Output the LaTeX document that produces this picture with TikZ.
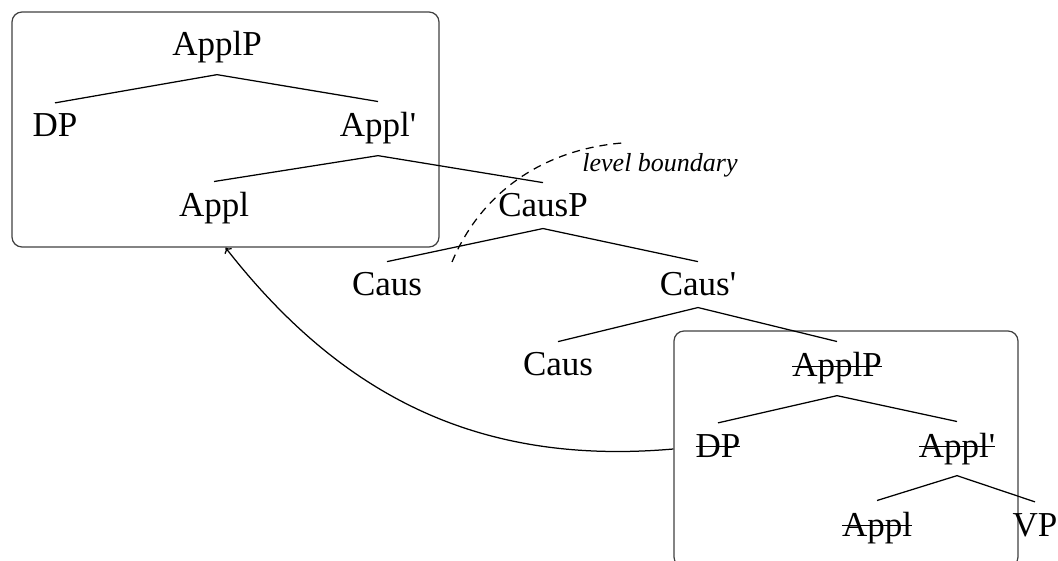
\documentclass[tikz,border=0pt]{standalone}
\usepackage{fontspec}
\setmainfont{Liberation Serif}
\usetikzlibrary{arrows.meta}

% struck-through label (deleted copy)
\newsavebox\strikebox
\newcommand\struck[1]{\sbox\strikebox{#1}\rlap{\raisebox{0.28em}{\rule{\wd\strikebox}{0.04em}}}\usebox\strikebox}

\begin{document}
\begin{tikzpicture}[x=1pt,y=-1pt,
  lbl/.style={anchor=base, inner xsep=0pt, inner ysep=11pt,
              font=\fontsize{35}{42}\selectfont},
  branch/.style={line width=1.25pt},
  frame/.style={draw=black!75, line width=1.25pt, rounded corners=10pt,
                inner sep=0pt},
  boundary/.style={line width=1.25pt, dash pattern=on 8pt off 6pt},
  move/.style={line width=1.25pt, -{To[length=5pt,width=9pt]}},
]
\useasboundingbox (0,0) rectangle (1058,561);

% boxes around the two copies of ApplP
\node[frame, minimum width=427pt, minimum height=235pt] (upper) at (225.5,129.5) {};
\node[frame, minimum width=344pt, minimum height=236pt] (lower) at (846,449) {};

% tree labels
\node[lbl] (applP)  at (217,56)  {ApplP};
\node[lbl] (dp)     at (55,137)  {DP};
\node[lbl] (applB)  at (378,137) {Appl\textquotesingle};
\node[lbl] (appl)   at (214,217) {Appl};
\node[lbl] (causP)  at (543,217) {CausP};
\node[lbl] (caus)   at (387,296) {Caus};
\node[lbl] (causB)  at (698,296) {Caus\textquotesingle};
\node[lbl] (causL)  at (558,376) {Caus};
\node[lbl] (applP2) at (837,377) {\struck{ApplP}};
\node[lbl] (dp2)    at (718,457) {\struck{DP}};
\node[lbl] (applB2) at (957,457) {\struck{Appl\textquotesingle}};
\node[lbl] (appl2)  at (877,536) {\struck{Appl}};
\node[lbl] (vp)     at (1035,536) {VP};

% branches
\draw[branch] (dp.north) -- (applP.south) -- (applB.north);
\draw[branch] (appl.north) -- (applB.south) -- (causP.north);
\draw[branch] (caus.north) -- (causP.south) -- (causB.north);
\draw[branch] (causL.north) -- (causB.south) -- (applP2.north);
\draw[branch] (dp2.north) -- (applP2.south) -- (applB2.north);
\draw[branch] (appl2.north) -- (applB2.south) -- (vp.north);

% level boundary
\coordinate (bnd-a) at (452,262);
\coordinate (bnd-b) at (622,143);
\draw[boundary] (bnd-a) .. controls (480,195) and (540,150) .. (bnd-b);
\node[anchor=base, inner sep=0pt, font=\fontsize{26}{31}\selectfont\itshape]
  (bndlabel) at (660,172) {level boundary};

% movement arrow
\draw[move] (lower.west) to[out=185,in=-52] (upper.south);
\end{tikzpicture}
\end{document}
